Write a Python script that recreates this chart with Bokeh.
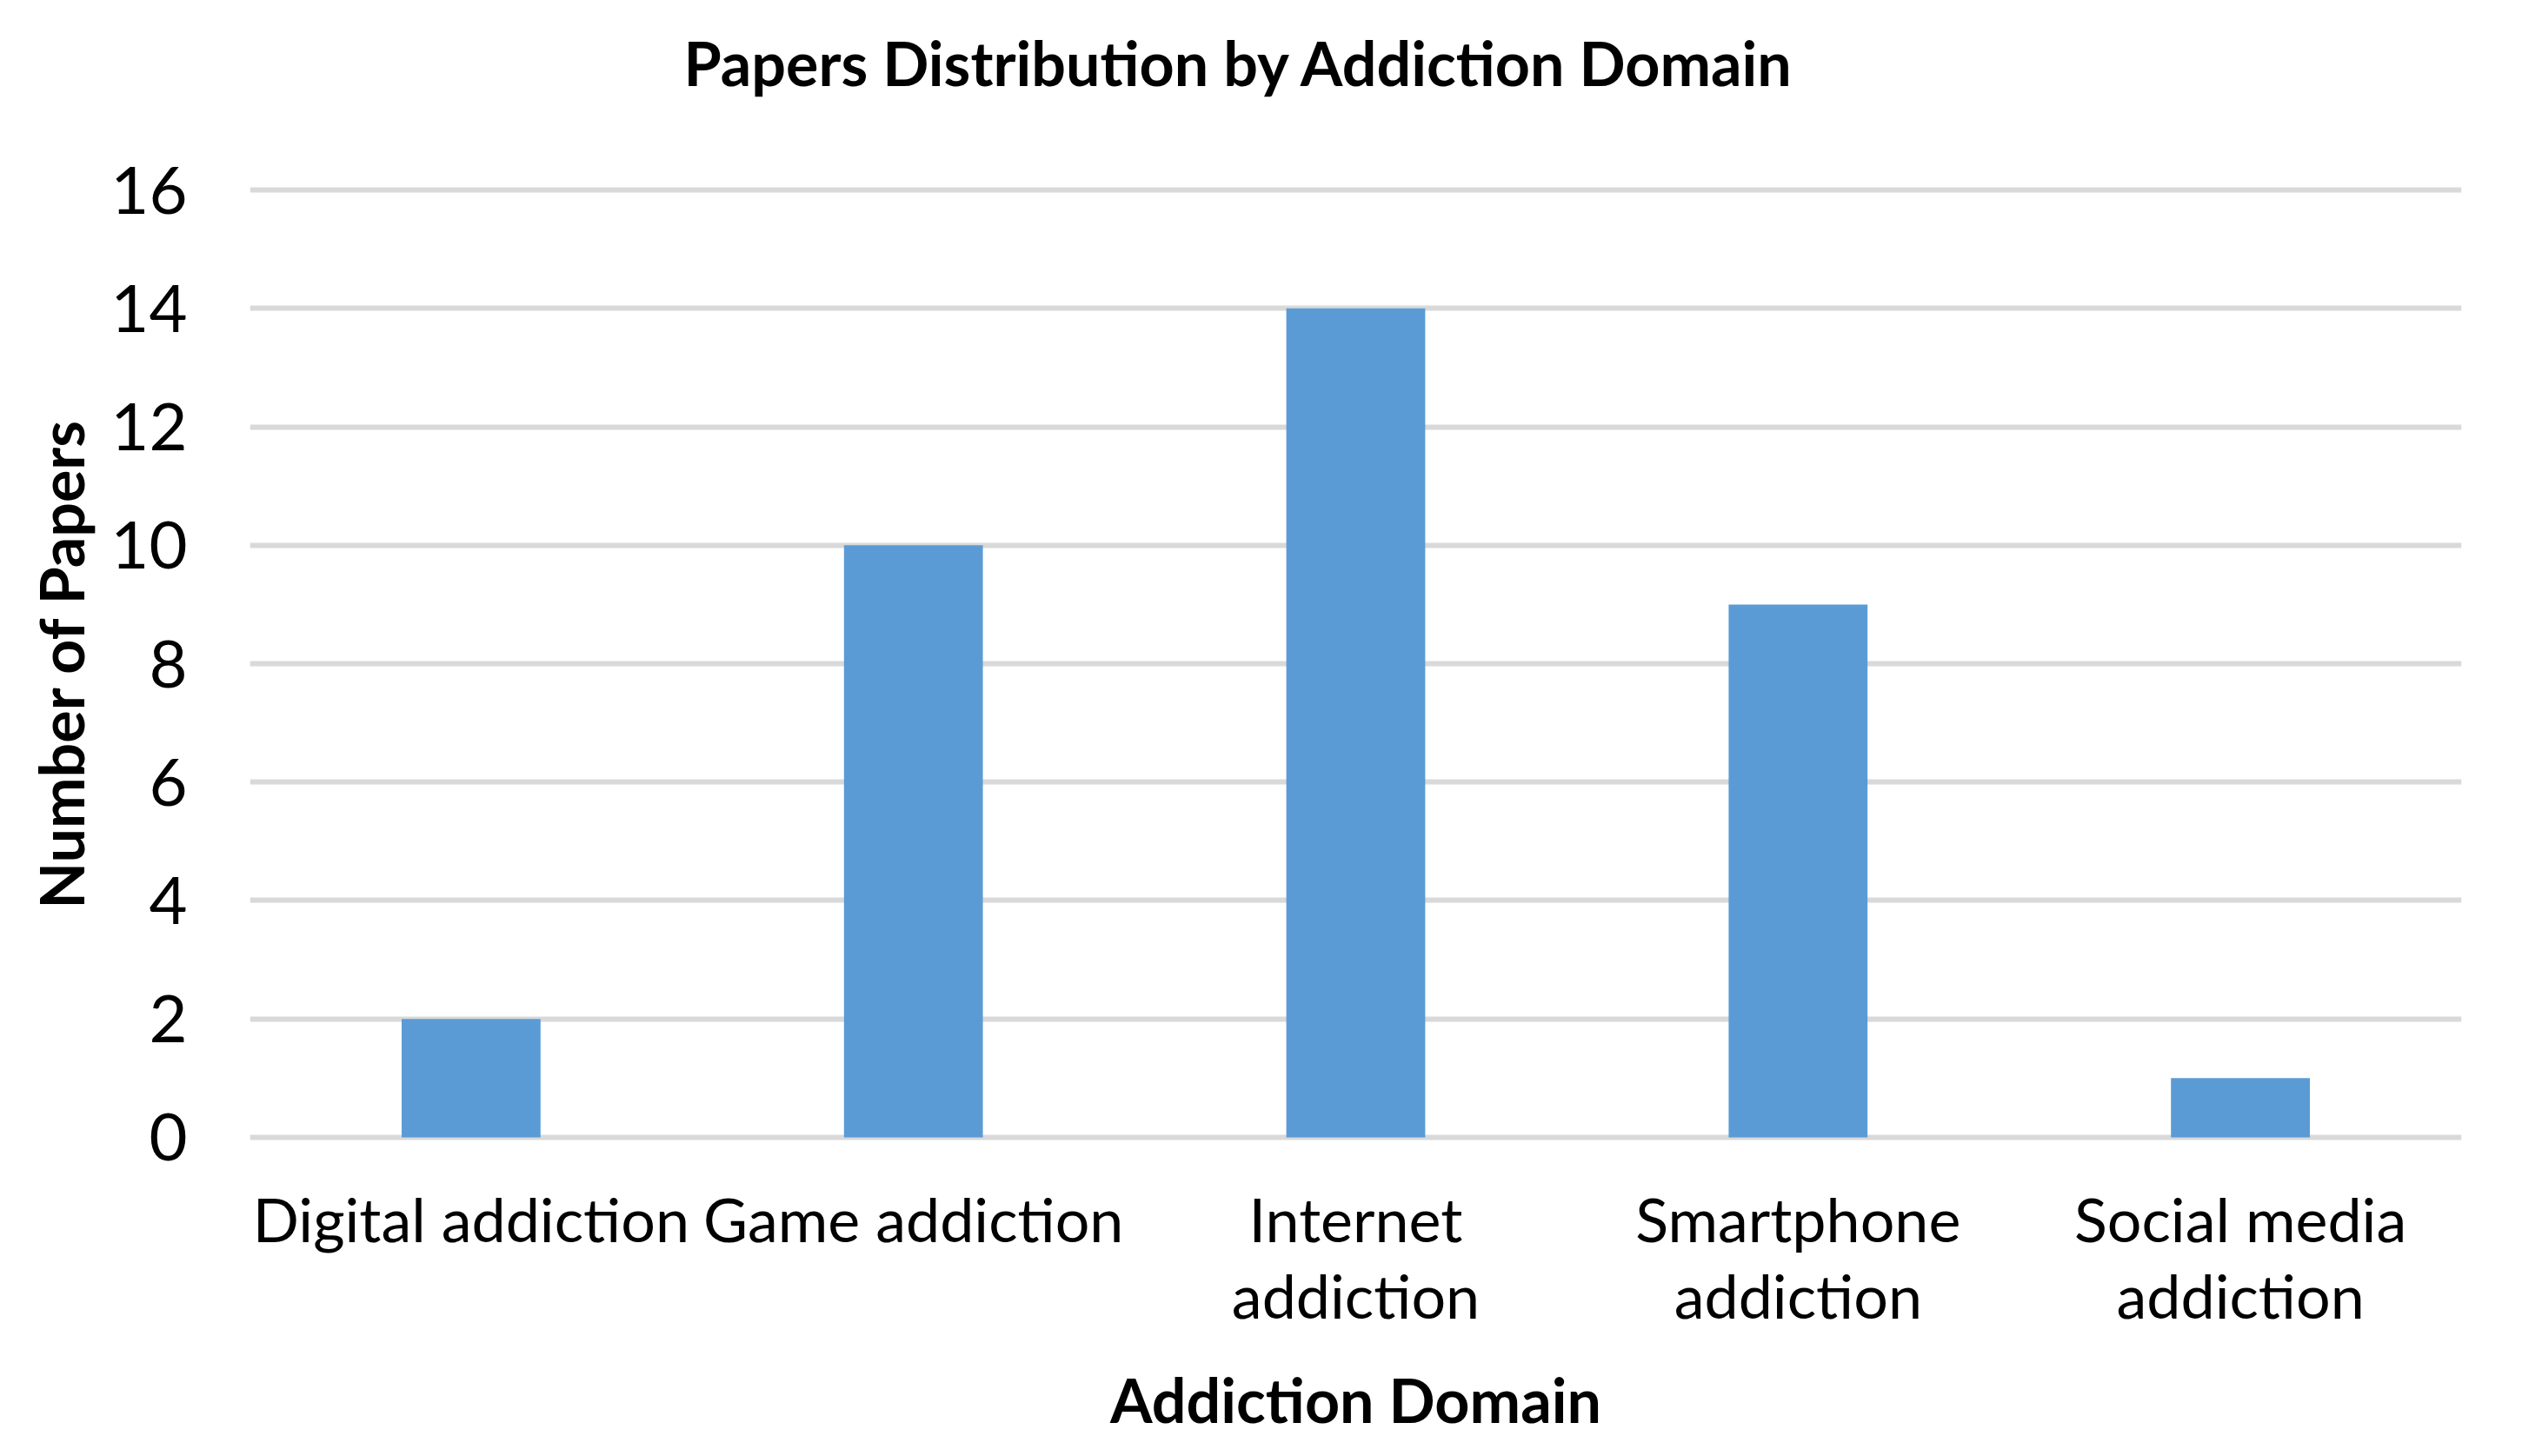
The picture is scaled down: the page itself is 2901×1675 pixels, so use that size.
from bokeh.plotting import figure
from bokeh.embed import file_html
from bokeh.resources import INLINE
from bokeh.models import ColumnDataSource, FixedTicker, Title

categories = ["Digital addiction", "Game addiction", "Internet\naddiction",
              "Smartphone\naddiction", "Social media\naddiction"]
papers = [2, 10, 14, 9, 1]
y_ticks = [0, 2, 4, 6, 8, 10, 12, 14, 16]
title_text = "Papers Distribution by Addiction Domain"

FONT = "Lato"

src = ColumnDataSource(data=dict(cat=categories, val=papers))

p = figure(x_range=categories, y_range=(-0.06, 16.06), width=2885, height=1667,
           output_backend="svg", toolbar_location=None,
           title=title_text,
           min_border_left=287, min_border_right=54,
           min_border_top=214, min_border_bottom=355)

p.vbar(x="cat", top="val", bottom=0, width=0.314, source=src,
       fill_color="#5b9bd5", line_color=None)

p.outline_line_color = None
p.background_fill_color = "white"
p.border_fill_color = "white"

# spacer between frame and title
p.add_layout(Title(text=" ", text_font_size="40px", standoff=30), "above")

p.title.text_font = FONT
p.title.text_font_style = "bold"
p.title.text_font_size = "70px"
p.title.text_color = "black"
p.title.align = "left"
p.title.offset = 499
p.title.standoff = 50

p.xgrid.grid_line_color = None
p.ygrid.grid_line_color = "#d9d9d9"
p.ygrid.grid_line_width = 6

p.yaxis.ticker = FixedTicker(ticks=y_ticks)
for ax in (p.xaxis[0], p.yaxis[0]):
    ax.axis_line_color = None
    ax.major_tick_line_color = None
    ax.minor_tick_line_color = None
    ax.major_label_text_font = FONT
    ax.major_label_text_font_size = "70px"
    ax.major_label_text_color = "black"
    ax.axis_label_text_font = FONT
    ax.axis_label_text_font_style = "bold"
    ax.axis_label_text_font_size = "70px"
    ax.axis_label_text_color = "black"

p.yaxis.major_label_text_font_size = "76px"
p.yaxis.axis_label = "Number of Papers"
p.yaxis.major_label_standoff = 66
p.yaxis.axis_label_standoff = 12

p.xaxis.axis_label = "Addiction Domain"
p.xaxis.major_label_standoff = 41
p.xaxis.major_label_text_line_height = 1.05
p.xaxis.axis_label_standoff = 33
p.xaxis.major_label_orientation = "horizontal"

open("out.html", "w").write(file_html(p, INLINE))
